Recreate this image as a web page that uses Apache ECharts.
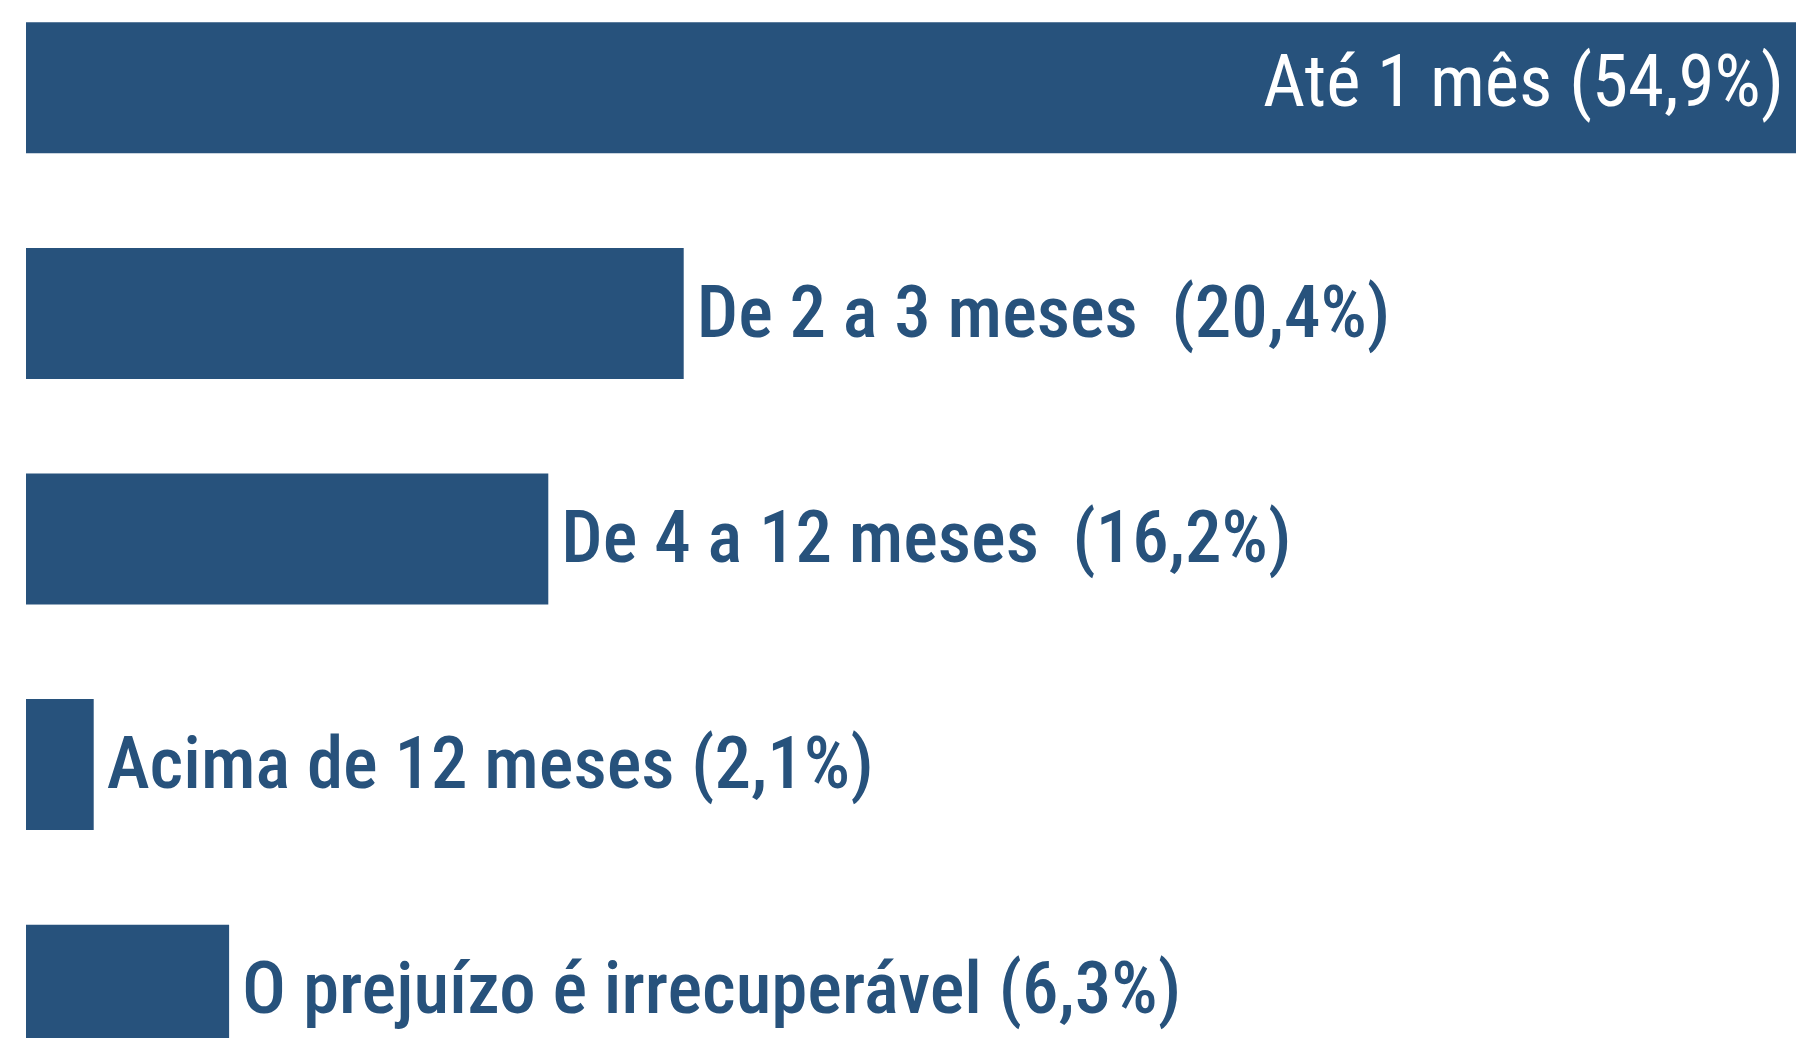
<!DOCTYPE html>
<html>
<head>
<meta charset="utf-8">
<script src="https://cdn.jsdelivr.net/npm/echarts@6/dist/echarts.min.js"></script>
<style>
html,body{margin:0;padding:0;background:#fff;height:1038px;overflow:hidden;}
#main{width:1796px;height:1128px;margin-top:-25px;}
</style>
</head>
<body>
<div id="main"></div>
<script>
// categorias e valores (%)
var categorias = ['Até 1 mês', 'De 2 a 3 meses ', 'De 4 a 12 meses ', 'Acima de 12 meses', 'O prejuízo é irrecuperável'];
var valores = [54.9, 20.4, 16.2, 2.1, 6.3];

var azul = '#27527C';
var fonte = '"Roboto Condensed", "Open Sans Condensed", "DejaVu Sans Condensed", sans-serif';

function rotulo(p) {
	return p.name + ' (' + p.value.toFixed(1).replace('.', ',') + '%)';
}

var dados = [];
for (var i = 0; i < valores.length; i++) {
	var item = { name: categorias[i], value: valores[i] };
	if (i == 0) {
		// primeira barra: texto branco dentro da barra
		item.label = { position: 'insideRight', color: '#fff', distance: 12, fontWeight: 'normal', offset: [0, 0] };
	}
	dados.push(item);
}

var myChart = echarts.init(document.getElementById('main'));

var option = {
	backgroundColor: '#fff',
	animation: false,
	grid: {
		left: 26,
		top: 0,
		width: 1773,
		height: 1128
	},
	xAxis: {
		type: 'value',
		min: 0,
		max: 54.9,
		show: false
	},
	yAxis: {
		type: 'category',
		data: categorias,
		inverse: true,
		show: false
	},
	series: [{
		type: 'bar',
		data: dados,
		barWidth: 131,
		itemStyle: { color: azul },
		label: {
			show: true,
			position: 'right',
			distance: 13,
			offset: [0, 5],
			formatter: rotulo,
			color: azul,
			fontFamily: fonte,
			fontWeight: 500,
			fontSize: 73
		}
	}]
};

myChart.setOption(option);
</script>
</body>
</html>
